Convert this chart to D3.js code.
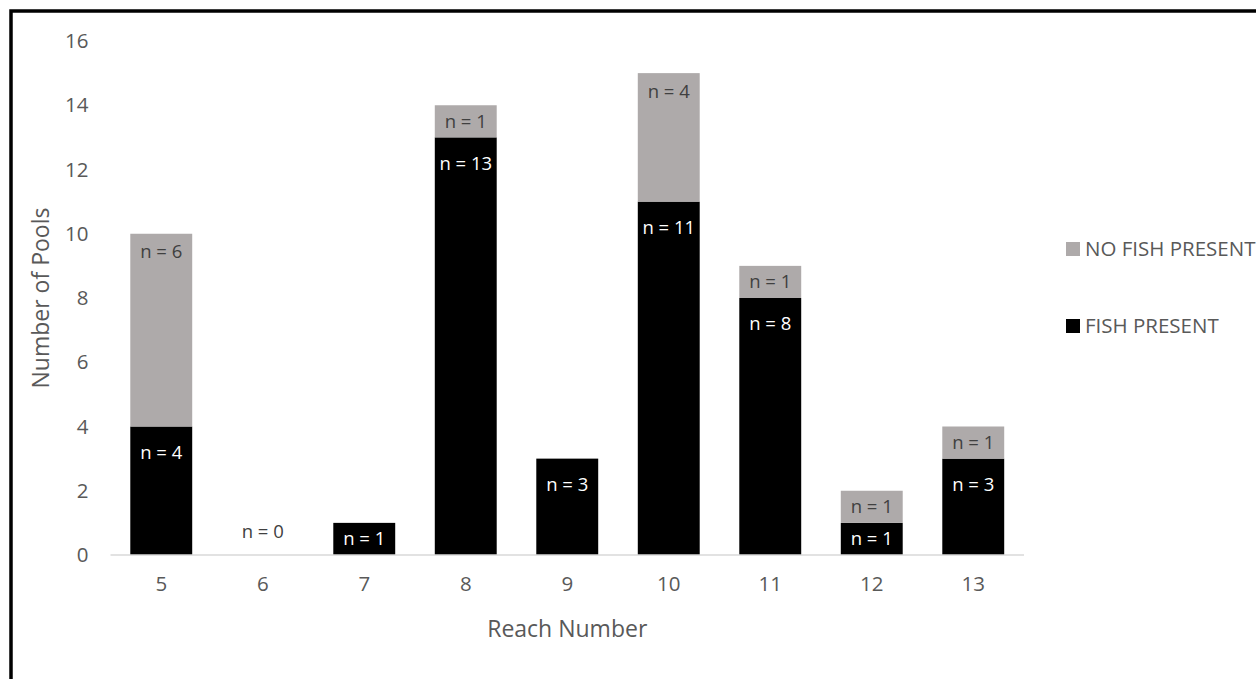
<!DOCTYPE html>
<html>
<head>
<meta charset="utf-8">
<script src="https://cdn.jsdelivr.net/npm/d3@7"></script>
<style>
  html, body { margin: 0; padding: 0; background: #fff; }
  svg { display: block; font-family: "Open Sans", "Noto Sans", sans-serif; }
</style>
</head>
<body>
<svg id="chart" width="1256" height="679"></svg>
<script>
// Pools per reach, split by whether fish were found
const reaches = ["5", "6", "7", "8", "9", "10", "11", "12", "13"];
const fishPresent = [4, 0, 1, 13, 3, 11, 8, 1, 3];
const noFishPresent = [6, 0, 0, 1, 0, 4, 1, 1, 1];
const yTicks = [0, 2, 4, 6, 8, 10, 12, 14, 16];
const seriesNames = ["NO FISH PRESENT", "FISH PRESENT"];

const colors = { fish: "#000000", noFish: "#AEAAAA" };

const svg = d3.select("#chart");

// Outer frame
svg.append("rect")
  .attr("x", 11).attr("y", 11)
  .attr("width", 1260).attr("height", 720)
  .attr("fill", "none")
  .attr("stroke", "#000")
  .attr("stroke-width", 3.5);

const plot = { left: 110.5, right: 1024, top: 41, bottom: 555 };

const x = d3.scaleBand()
  .domain(reaches)
  .range([plot.left, plot.right])
  .paddingInner(0.39)
  .paddingOuter(0.195);

const y = d3.scaleLinear()
  .domain([0, 16])
  .range([plot.bottom, plot.top]);

const rows = reaches.map((r, i) => ({
  reach: r,
  fish: fishPresent[i],
  noFish: noFishPresent[i]
}));

// Stacked bars: fish present at the base, no fish on top
const g = svg.append("g");
g.selectAll("rect.fish")
  .data(rows.filter(d => d.fish > 0))
  .join("rect")
  .attr("class", "fish")
  .attr("x", d => x(d.reach))
  .attr("width", x.bandwidth())
  .attr("y", d => y(d.fish))
  .attr("height", d => y(0) - y(d.fish))
  .attr("fill", colors.fish);

g.selectAll("rect.nofish")
  .data(rows.filter(d => d.noFish > 0))
  .join("rect")
  .attr("class", "nofish")
  .attr("x", d => x(d.reach))
  .attr("width", x.bandwidth())
  .attr("y", d => y(d.fish + d.noFish))
  .attr("height", d => y(d.fish) - y(d.fish + d.noFish))
  .attr("fill", colors.noFish);

// Baseline
svg.append("line")
  .attr("x1", plot.left).attr("x2", plot.right)
  .attr("y1", y(0)).attr("y2", y(0))
  .attr("stroke", "#D9D9D9")
  .attr("stroke-width", 1.3);

// Segment labels, placed just inside the top of each segment
const labelSize = 18.5;
const labels = svg.append("g")
  .attr("font-size", labelSize)
  .attr("text-anchor", "middle");

rows.forEach(d => {
  const cx = x(d.reach) + x.bandwidth() / 2;
  if (d.fish > 0) {
    const top = y(d.fish), h = y(0) - top;
    const cy = Math.min(top + 26, top + h / 2);
    labels.append("text")
      .attr("x", cx).attr("y", cy)
      .attr("dy", "0.35em")
      .attr("fill", "#FFFFFF")
      .text(`n = ${d.fish}`);
  }
  if (d.noFish > 0) {
    const top = y(d.fish + d.noFish), h = y(d.fish) - top;
    const cy = Math.min(top + 18, top + h / 2);
    labels.append("text")
      .attr("x", cx).attr("y", cy)
      .attr("dy", "0.35em")
      .attr("fill", "#404040")
      .text(`n = ${d.noFish}`);
  }
  if (d.fish + d.noFish === 0) {
    labels.append("text")
      .attr("x", cx).attr("y", y(0) - 23)
      .attr("dy", "0.35em")
      .attr("fill", "#404040")
      .text(`n = ${d.fish}`);
  }
});

// Y axis (labels only)
const yAxis = svg.append("g")
  .attr("transform", `translate(${plot.left - 22},0)`)
  .call(d3.axisLeft(y).tickValues(yTicks).tickSize(0).tickPadding(0));
yAxis.select(".domain").remove();
yAxis.selectAll("text")
  .attr("font-family", "'Open Sans', 'Noto Sans', sans-serif")
  .attr("font-size", 20.5)
  .attr("fill", "#595959");

// X axis (labels only)
const xAxis = svg.append("g")
  .attr("transform", `translate(0,${plot.bottom + 21})`)
  .call(d3.axisBottom(x).tickSize(0).tickPadding(0));
xAxis.select(".domain").remove();
xAxis.selectAll("text")
  .attr("font-family", "'Open Sans', 'Noto Sans', sans-serif")
  .attr("font-size", 20.5)
  .attr("fill", "#595959");

// Axis titles
svg.append("text")
  .attr("x", (plot.left + plot.right) / 2)
  .attr("y", 629)
  .attr("dy", "0.35em")
  .attr("text-anchor", "middle")
  .attr("font-size", 23)
  .attr("fill", "#595959")
  .text("Reach Number");

svg.append("text")
  .attr("transform", `translate(41,${(plot.top + plot.bottom) / 2}) rotate(-90)`)
  .attr("dy", "0.35em")
  .attr("text-anchor", "middle")
  .attr("font-size", 23)
  .attr("fill", "#595959")
  .text("Number of Pools");

// Legend
const legendColors = [colors.noFish, colors.fish];
const legend = svg.append("g");
seriesNames.forEach((name, i) => {
  const cy = 249 + i * 77;
  legend.append("rect")
    .attr("x", 1066).attr("y", cy - 7)
    .attr("width", 14).attr("height", 14)
    .attr("fill", legendColors[i]);
  legend.append("text")
    .attr("x", 1085).attr("y", cy)
    .attr("dy", "0.35em")
    .attr("font-size", 20.5)
    .attr("fill", "#595959")
    .text(name);
});
</script>
</body>
</html>
